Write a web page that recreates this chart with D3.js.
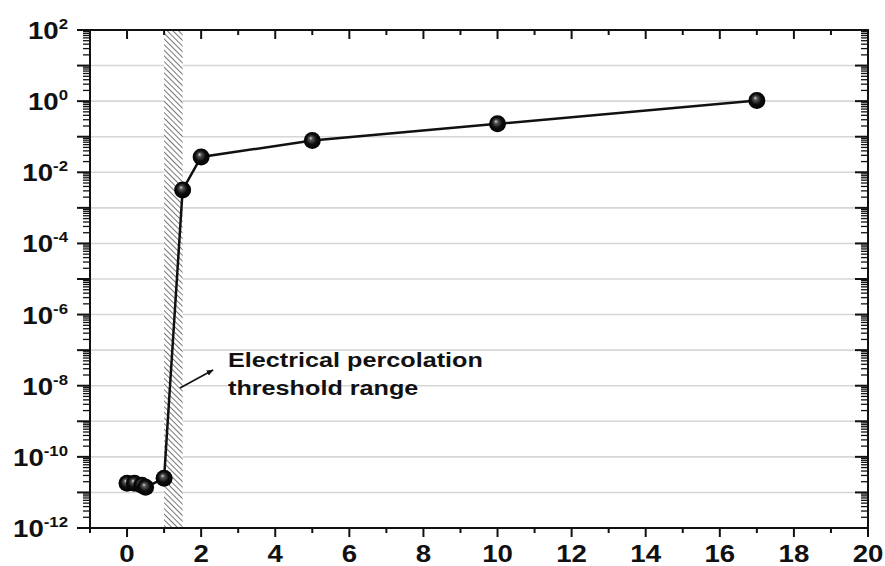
<!DOCTYPE html>
<html><head><meta charset="utf-8">
<script src="https://cdn.jsdelivr.net/npm/d3@7"></script>
<style>
html,body{margin:0;padding:0;background:#fff;}
text{font-family:"Liberation Sans",Arial,sans-serif;font-weight:bold;fill:#111;}
</style></head>
<body>
<svg id="chart" width="885" height="566"></svg>
<script>
// Data
const xValues = [0, 0.2, 0.4, 0.5, 1, 1.5, 2, 5, 10, 17];
const yValues = [1.8e-11, 1.8e-11, 1.6e-11, 1.4e-11, 2.5e-11, 3.2e-3, 2.7e-2, 7.8e-2, 2.3e-1, 1.05];
const xTickLabels = [0, 2, 4, 6, 8, 10, 12, 14, 16, 18, 20];
const yTickExponents = [-12, -10, -8, -6, -4, -2, 0, 2];
const bandRange = [1, 1.5];
const annotationLines = ["Electrical percolation", "threshold range"];

const W = 885, H = 566;
const margin = {left: 90, top: 30, right: 17, bottom: 38};
const svg = d3.select("#chart");
const x = d3.scaleLinear().domain([-1, 20]).range([margin.left, W - margin.right]);
const y = d3.scaleLog().domain([1e-12, 1e2]).range([H - margin.bottom, margin.top]);
const X0 = margin.left, X1 = W - margin.right, Y0 = H - margin.bottom, Y1 = margin.top;
const STRETCH = 1.2;

const defs = svg.append("defs");
const pat = defs.append("pattern").attr("id", "hatch").attr("patternUnits", "userSpaceOnUse")
  .attr("width", 4).attr("height", 4).attr("patternTransform", "rotate(-45)");
pat.append("rect").attr("width", 4).attr("height", 4).attr("fill", "#fff");
pat.append("line").attr("x1", 0).attr("y1", 0).attr("x2", 0).attr("y2", 4)
  .attr("stroke", "#5e5e5e").attr("stroke-width", 1.7);
const grad = defs.append("radialGradient").attr("id", "ball")
  .attr("cx", "0.5").attr("cy", "0.5").attr("r", "0.55").attr("fx", "0.4").attr("fy", "0.35");
grad.append("stop").attr("offset", "0%").attr("stop-color", "#e0e0e0");
grad.append("stop").attr("offset", "18%").attr("stop-color", "#5a5a5a");
grad.append("stop").attr("offset", "55%").attr("stop-color", "#0d0d0d");
grad.append("stop").attr("offset", "100%").attr("stop-color", "#000");
const mk = defs.append("marker").attr("id", "arrow").attr("viewBox", "0 0 10 10")
  .attr("refX", 9).attr("refY", 5).attr("markerWidth", 7).attr("markerHeight", 7)
  .attr("markerUnits", "userSpaceOnUse").attr("orient", "auto");
mk.append("path").attr("d", "M0,1 L10,5 L0,9 Z").attr("fill", "#111");

// gridlines
const decades = d3.range(-11, 2).map(e => Math.pow(10, e));
svg.append("g").selectAll("line").data(decades).join("line")
  .attr("x1", X0).attr("x2", X1).attr("y1", d => y(d)).attr("y2", d => y(d))
  .attr("stroke", "#d6d6d6").attr("stroke-width", 1.6);

// hatched band
svg.append("rect").attr("x", x(bandRange[0])).attr("y", Y1)
  .attr("width", x(bandRange[1]) - x(bandRange[0])).attr("height", Y0 - Y1)
  .attr("fill", "url(#hatch)");

// ticks
const allDec = d3.range(-12, 3);
const minorVals = [];
allDec.forEach(e => { if (e < 2) for (let m = 2; m <= 9; m++) minorVals.push(m * Math.pow(10, e)); });
const majorVals = allDec.map(e => Math.pow(10, e));
const axisG = svg.append("g").attr("stroke", "#111");
axisG.selectAll(".lmaj").data(majorVals).join("line")
  .attr("x1", X0 - 13).attr("x2", X0).attr("y1", d => y(d)).attr("y2", d => y(d)).attr("stroke-width", 2);
axisG.selectAll(".lmin").data(minorVals).join("line")
  .attr("x1", X0 - 7).attr("x2", X0).attr("y1", d => y(d)).attr("y2", d => y(d)).attr("stroke-width", 1.3);
axisG.selectAll(".rmaj").data(majorVals).join("line")
  .attr("x1", X1 - 13).attr("x2", X1).attr("y1", d => y(d)).attr("y2", d => y(d)).attr("stroke-width", 2);
axisG.selectAll(".rmin").data(minorVals).join("line")
  .attr("x1", X1 - 7).attr("x2", X1).attr("y1", d => y(d)).attr("y2", d => y(d)).attr("stroke-width", 1.3);
const xInts = d3.range(-1, 21);
axisG.selectAll(".bt").data(xInts).join("line")
  .attr("x1", d => x(d)).attr("x2", d => x(d)).attr("y1", Y0)
  .attr("y2", d => Y0 + (d % 2 === 0 ? 9 : 5)).attr("stroke-width", 2);
axisG.selectAll(".tt").data(xInts).join("line")
  .attr("x1", d => x(d)).attr("x2", d => x(d)).attr("y1", Y1)
  .attr("y2", d => Y1 + (d % 2 === 0 ? 9 : 5)).attr("stroke-width", 2);
svg.append("rect").attr("x", X0).attr("y", Y1).attr("width", X1 - X0).attr("height", Y0 - Y1)
  .attr("fill", "none").attr("stroke", "#111").attr("stroke-width", 2);

// x labels
xTickLabels.forEach(v => {
  svg.append("g").attr("transform", `translate(${x(v)},${Y0 + 34}) scale(${STRETCH},1)`)
    .append("text").attr("text-anchor", "middle").attr("font-size", 23).text(v);
});
// y labels
yTickExponents.forEach(e => {
  const g = svg.append("g").attr("transform", `translate(68,${y(Math.pow(10, e)) + 9}) scale(${STRETCH},1)`);
  const t = g.append("text").attr("text-anchor", "end").attr("font-size", 23);
  t.append("tspan").text("10");
  t.append("tspan").attr("font-size", 14).attr("dy", -10).text(String(e));
});

// line + points
const pts = xValues.map((v, i) => [v, yValues[i]]);
svg.append("path").datum(pts)
  .attr("d", d3.line().x(d => x(d[0])).y(d => y(d[1])))
  .attr("fill", "none").attr("stroke", "#111").attr("stroke-width", 2.5);
svg.append("g").selectAll("circle").data(pts).join("circle")
  .attr("cx", d => x(d[0])).attr("cy", d => y(d[1])).attr("r", 8.5)
  .attr("fill", "url(#ball)");

// annotation
svg.append("line").attr("x1", 180).attr("y1", 388).attr("x2", 213).attr("y2", 370)
  .attr("stroke", "#111").attr("stroke-width", 1.6).attr("marker-end", "url(#arrow)");
annotationLines.forEach((s, i) => {
  svg.append("g").attr("transform", `translate(228,${367 + i * 28}) scale(${STRETCH},1)`)
    .append("text").attr("font-size", 21).text(s);
});
</script>
</body></html>
